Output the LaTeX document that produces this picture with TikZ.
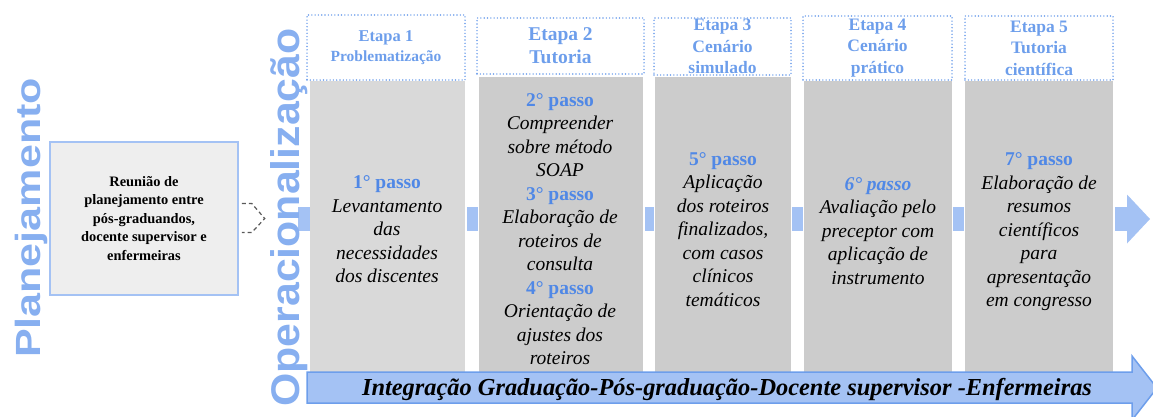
\documentclass[tikz,border=0pt]{standalone}
\usepackage{fontspec}
\setmainfont{Liberation Serif}
\setsansfont{Liberation Sans}
\usepackage{tikz}
\usetikzlibrary{arrows.meta}

\definecolor{etapablue}{RGB}{109,158,235}
\definecolor{passoblue}{RGB}{80,136,230}
\definecolor{titleblue}{RGB}{135,175,240}
\definecolor{setafill}{RGB}{164,194,244}
\definecolor{grayone}{RGB}{217,217,217}
\definecolor{graytwo}{RGB}{204,204,204}
\definecolor{boxfill}{RGB}{238,238,238}

\newcommand{\passolbl}[1]{{\upshape\bfseries\color{passoblue}#1}}

\begin{document}
\begin{tikzpicture}[x=1pt, y=-1pt]
    \tikzstyle{titulo} = [inner sep=0pt, text=titleblue, font=\sffamily\bfseries\fontsize{35}{35}\selectfont]
    \tikzstyle{reuniaobox} = [rectangle, draw=setafill, line width=1.5pt, fill=boxfill, inner sep=0pt, align=center, font=\bfseries\fontsize{14.4}{18.5}\selectfont]
    \tikzstyle{etapa} = [rectangle, draw=etapablue, line width=1.6pt, dash pattern=on 0pt off 3.3pt, line cap=round, inner sep=0pt, align=center, text=etapablue, font=\bfseries\fontsize{17.5}{21.5}\selectfont]
    \tikzstyle{coluna} = [rectangle, fill=graytwo, inner sep=0pt]
    \tikzstyle{passos} = [inner sep=0pt, align=center, font=\itshape\fontsize{19.5}{23.5}\selectfont]
    \tikzstyle{link} = [draw=setafill, line width=24pt]
    \tikzstyle{seta} = [draw=etapablue, fill=setafill, line width=1.5pt, line join=miter]
    \tikzstyle{tracejado} = [draw=black!65, line width=1.2pt, dash pattern=on 4pt off 3pt]

    \useasboundingbox (0,0) rectangle (1153,416);

    % Planning
    \node[reuniaobox, minimum width=188, minimum height=153] (reuniao) at (144,218.5)
        {Reunião de\\planejamento entre\\pós-graduandos,\\docente supervisor e\\enfermeiras};
    \draw[tracejado] ([xshift=3pt, yshift=15pt]reuniao.east) -- ++(10,0) -- ++(13,15) -- ++(-13,14) -- ++(-10,0);

    % Columns
    \node[coluna, fill=grayone, minimum width=155, minimum height=291] (c1) at (387.5,226.5) {};
    \node[coluna, minimum width=164, minimum height=295] (c2) at (561,224.5) {};
    \node[coluna, minimum width=136, minimum height=295] (c3) at (723,224.5) {};
    \node[coluna, minimum width=148, minimum height=291] (c4) at (878,226.5) {};
    \node[coluna, minimum width=148, minimum height=291] (c5) at (1039,226.5) {};

    % Stage headers
    \node[etapa, minimum width=158, minimum height=65, font=\bfseries\fontsize{16.5}{20}\selectfont] (h1) at (386,47.5)
        {Etapa 1\\{\fontsize{15.5}{20}\selectfont Problematização}};
    \node[etapa, minimum width=167, minimum height=56, font=\bfseries\fontsize{19.5}{23}\selectfont] (h2) at (560.5,46)
        {Etapa 2\\Tutoria};
    \node[etapa, minimum width=137, minimum height=57] (h3) at (722.5,46.5) {Etapa 3\\Cenário\\simulado};
    \node[etapa, minimum width=149, minimum height=64] (h4) at (877.5,48) {Etapa 4\\Cenário\\prático};
    \node[etapa, minimum width=148, minimum height=64] (h5) at (1039,48) {Etapa 5\\Tutoria\\científica};

    % Links between columns
    \coordinate (mid) at (0,219);
    \coordinate (l0) at (298,219);
    \coordinate (fim) at (1150,219);
    \draw[link] (l0) -- (c1.west |- mid);
    \draw[link, shorten <=2pt, shorten >=1pt] (c1.east |- mid) -- (c2.west |- mid);
    \draw[link, shorten <=2pt, shorten >=1pt] (c2.east |- mid) -- (c3.west |- mid);
    \draw[link, shorten <=1pt, shorten >=1pt] (c3.east |- mid) -- (c4.west |- mid);
    \draw[link, shorten <=1pt, shorten >=1pt] (c4.east |- mid) -- (c5.west |- mid);
    \draw[link, shorten <=2pt, -{Triangle[length=23pt, width=49pt, line width=0pt]}] (c5.east |- mid) -- (fim);

    % Steps
    \node[passos] (t1) at (387,229.5)
        {\passolbl{1° passo}\\Levantamento\\das\\necessidades\\dos discentes};
    \node[passos] (t2) at (560,229)
        {\passolbl{2° passo}\\Compreender\\sobre método\\SOAP\\\passolbl{3° passo}\\Elaboração de\\roteiros de\\consulta\\\passolbl{4° passo}\\Orientação de\\ajustes dos\\roteiros};
    \node[passos] (t3) at (723,229.5)
        {\passolbl{5° passo}\\Aplicação\\dos roteiros\\finalizados,\\com casos\\clínicos\\temáticos};
    \node[passos] (t4) at (878,231)
        {{\bfseries\color{passoblue}6° passo}\\Avaliação pelo\\preceptor com\\aplicação de\\instrumento};
    \node[passos] (t5) at (1039,232)
        {\passolbl{7° passo}\\Elaboração de\\resumos\\científicos\\para\\apresentação\\em congresso};

    % Integration arrow
    \draw[seta] (307,372) -- (1132,372) -- (1132,356) -- (1157,388) -- (1132,420) -- (1132,403) -- (307,403) -- cycle;
    \node[inner sep=0pt, font=\bfseries\itshape\fontsize{24.4}{27}\selectfont] (integracao) at (727,389)
        {Integração Graduação-Pós-graduação-Docente supervisor -Enfermeiras};

    % Titles
    \node[titulo, anchor=base, rotate=90] (planejamento) at (40,218) {\scalebox{1.23}[1]{Planejamento}};
    \node[titulo, anchor=base, rotate=90, font=\sffamily\bfseries\fontsize{40}{40}\selectfont] (operacionalizacao) at (299,217.5)
        {\scalebox{1.07}[1]{Operacionalização}};

\end{tikzpicture}
\end{document}
